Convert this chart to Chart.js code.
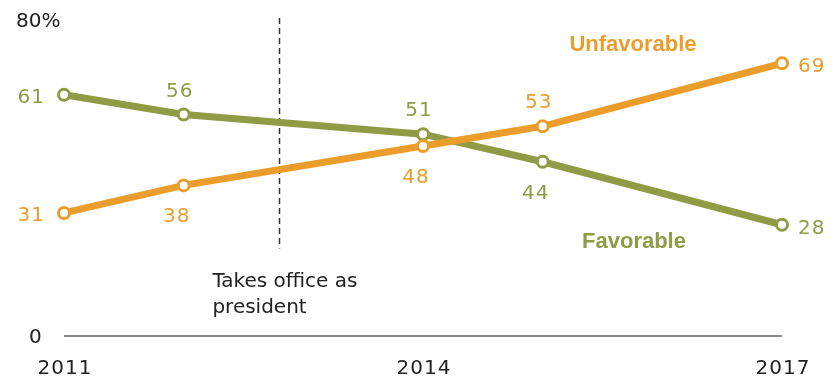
<!DOCTYPE html>
<html>
<head>
<meta charset="utf-8">
<script src="https://cdn.jsdelivr.net/npm/chart.js@4"></script>
<style>
  html, body { margin: 0; padding: 0; background: #fff; }
  #wrap { width: 836px; height: 377px; position: relative; }
</style>
</head>
<body>
<div id="wrap"><canvas id="c" width="836" height="377"></canvas></div>
<script>
// Survey years and shares (%)
const years = [2011, 2012, 2014, 2015, 2017];
const favorable = [61, 56, 51, 44, 28];
const unfavorable = [31, 38, 48, 53, 69];
const xTickLabels = [2011, 2014, 2017];
const yTickLabels = [0, 80];
const officeYear = 2012.8;
const officeNote = ['Takes office as', 'president'];

const GREEN = '#8f9c45';
const ORANGE = '#eb9d2c';
const FONT = '"DejaVu Sans", Verdana, sans-serif';
const BOLD_FONT = '"Liberation Sans", Arial, sans-serif';

// label placement per point: 'left', 'right', 'above', 'below'
const favPlace = ['left', 'above', 'above', 'below', 'right'];
const unfPlace = ['left', 'below', 'below', 'above', 'right'];

const toPoints = (vals) => years.map((y, i) => ({ x: y, y: vals[i] }));

const decor = {
  id: 'decor',
  beforeDatasetsDraw(chart) {
    const { ctx, scales: { x, y } } = chart;
    ctx.save();
    // baseline
    ctx.strokeStyle = '#8a8a8a';
    ctx.lineWidth = 2;
    ctx.beginPath();
    ctx.moveTo(x.getPixelForValue(2011), y.getPixelForValue(0) + 1);
    ctx.lineTo(x.getPixelForValue(2017), y.getPixelForValue(0) + 1);
    ctx.stroke();
    // event marker
    const ex = Math.round(x.getPixelForValue(officeYear)) + 0.5;
    ctx.strokeStyle = '#333';
    ctx.lineWidth = 1.5;
    ctx.setLineDash([6, 4]);
    ctx.beginPath();
    ctx.moveTo(ex, y.getPixelForValue(80) - 2);
    ctx.lineTo(ex, y.getPixelForValue(22));
    ctx.stroke();
    ctx.restore();
  },
  afterDatasetsDraw(chart) {
    const { ctx, scales: { x, y } } = chart;
    ctx.save();
    ctx.textBaseline = 'alphabetic';
    ctx.fillStyle = '#222';
    ctx.font = '20px ' + FONT;
    // note beside the marker
    ctx.textAlign = 'left';
    officeNote.forEach((line, i) => ctx.fillText(line, x.getPixelForValue(officeYear) - 67, 287 + i * 26));
    // y tick labels
    ctx.fillText(yTickLabels[1] + '%', 16, y.getPixelForValue(yTickLabels[1]) + 7);
    ctx.letterSpacing = '1px';
    ctx.fillText(String(yTickLabels[0]), 29, y.getPixelForValue(yTickLabels[0]) + 8);
    // x tick labels
    ctx.textAlign = 'center';
    xTickLabels.forEach(t => ctx.fillText(String(t), x.getPixelForValue(t) + 1, 374));

    // value labels
    const drawLabels = (vals, places, color) => {
      ctx.fillStyle = color;
      vals.forEach((v, i) => {
        const px = x.getPixelForValue(years[i]);
        const py = y.getPixelForValue(v);
        const p = places[i];
        const s = String(v);
        if (p === 'left') { ctx.textAlign = 'right'; ctx.fillText(s, px - 19, py + 8); }
        else if (p === 'right') { ctx.textAlign = 'left'; ctx.fillText(s, px + 16, py + 9); }
        else if (p === 'above') { ctx.textAlign = 'center'; ctx.fillText(s, px - 4, py - 18); }
        else { ctx.textAlign = 'center'; ctx.fillText(s, px - 7, py + 37); }
      });
    };
    drawLabels(favorable, favPlace, GREEN);
    drawLabels(unfavorable, unfPlace, ORANGE);

    // series names
    ctx.letterSpacing = '0px';
    ctx.font = 'bold 22px ' + BOLD_FONT;
    ctx.textAlign = 'center';
    ctx.fillStyle = ORANGE;
    ctx.fillText('Unfavorable', 633, 51);
    ctx.fillStyle = GREEN;
    ctx.fillText('Favorable', 634, 248);
    ctx.restore();
  }
};

const lineStyle = (color) => ({
  borderColor: color,
  borderWidth: 7,
  pointRadius: 5.5,
  pointBorderWidth: 3,
  pointBackgroundColor: '#fff',
  pointBorderColor: color,
  tension: 0,
  clip: false
});

new Chart(document.getElementById('c'), {
  type: 'line',
  data: {
    datasets: [
      Object.assign({ label: 'Unfavorable', data: toPoints(unfavorable) }, lineStyle(ORANGE)),
      Object.assign({ label: 'Favorable', data: toPoints(favorable) }, lineStyle(GREEN))
    ]
  },
  options: {
    responsive: false,
    animation: false,
    layout: { padding: { left: 64, right: 54, top: 20, bottom: 42 } },
    plugins: { legend: { display: false }, tooltip: { enabled: false } },
    scales: {
      x: { type: 'linear', min: 2011, max: 2017, display: false },
      y: { min: 0, max: 80, display: false }
    }
  },
  plugins: [decor]
});
</script>
</body>
</html>
